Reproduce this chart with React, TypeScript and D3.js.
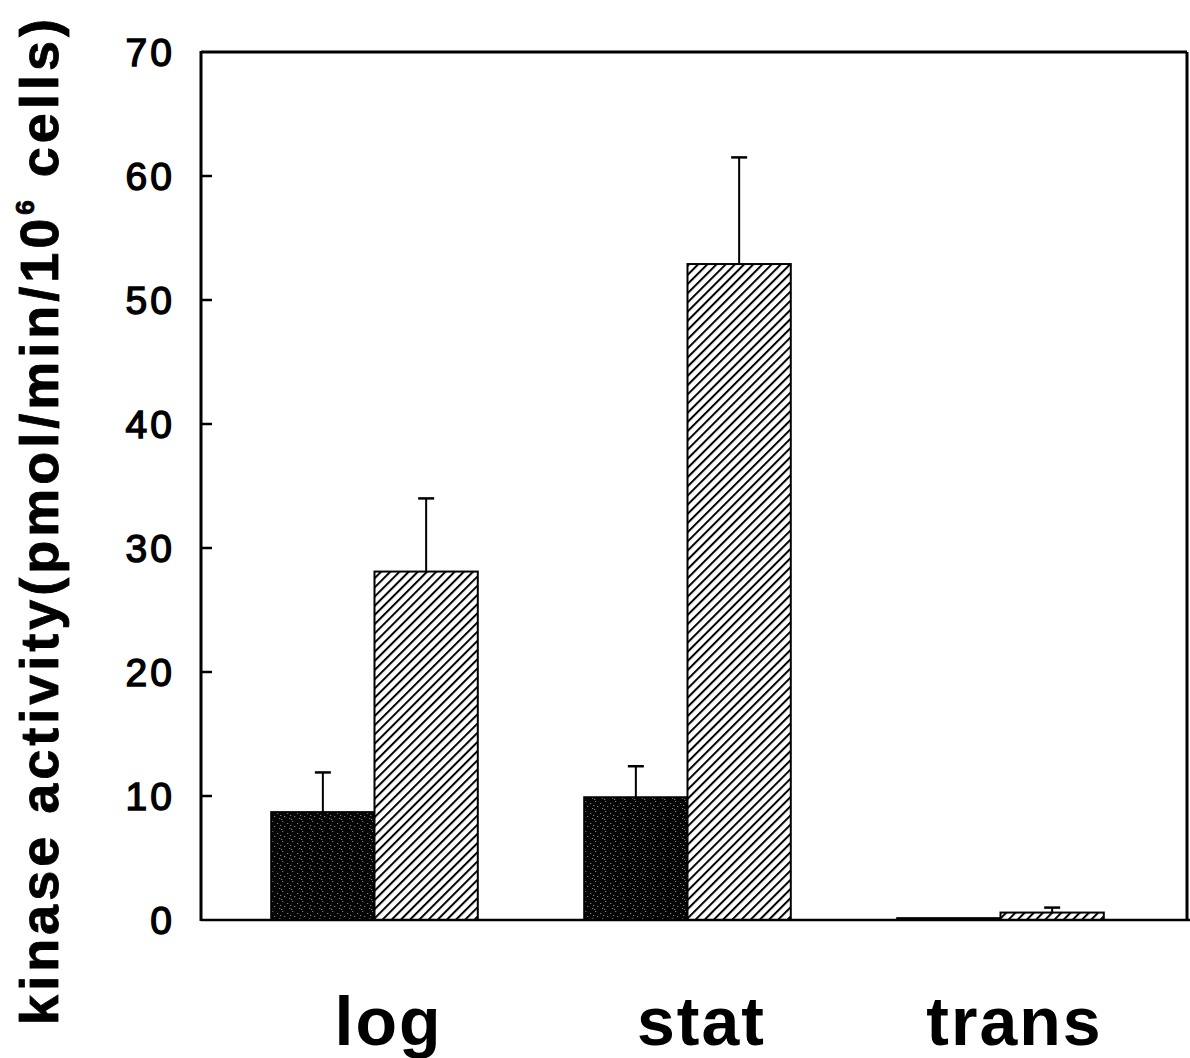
import React, { useEffect, useRef } from "react";
import * as d3 from "d3";

const categories = ["log", "stat", "trans"];
const series = ["dark", "hatched"];
const darkValues = [8.7, 9.9, 0.15];
const darkErrTop = [11.9, 12.4, null];
const hatchedValues = [28.1, 52.9, 0.6];
const hatchedErrTop = [34.0, 61.5, 1.0];
const yTicks = [0, 10, 20, 30, 40, 50, 60, 70];
const yLabelMain = "kinase activity(pmol/min/10";
const yLabelSup = "6";
const yLabelTail = " cells)";

// decorative speckle positions for the dark texture tile (10x10)
const speckles = [
  [1, 1], [6, 3], [3, 6], [8, 8], [0, 9], [9, 5],
];

const W = 1190;
const H = 1058;

export default function App() {
  const ref = useRef<SVGSVGElement | null>(null);

  useEffect(() => {
    const svg = d3.select(ref.current);
    svg.selectAll("*").remove();

    const left = 201, right = 1187, top = 52, bottom = 920;

    const y = d3.scaleLinear().domain([0, 70]).range([bottom, top]);
    const x0 = d3
      .scaleBand<string>()
      .domain(categories)
      .range([218, 1157])
      .paddingInner(0.34)
      .paddingOuter(0.17);
    const x1 = d3.scaleBand<string>().domain(series).range([0, x0.bandwidth()]).padding(0);

    const defs = svg.append("defs");
    const dark = defs
      .append("pattern")
      .attr("id", "darkTex")
      .attr("patternUnits", "userSpaceOnUse")
      .attr("width", 10)
      .attr("height", 10);
    dark.append("rect").attr("width", 10).attr("height", 10).attr("fill", "#050505");
    dark
      .selectAll("rect.sp")
      .data(speckles)
      .enter()
      .append("rect")
      .attr("class", "sp")
      .attr("x", (d) => d[0])
      .attr("y", (d) => d[1])
      .attr("width", 1)
      .attr("height", 1)
      .attr("fill", "#999");

    const hatch = defs
      .append("pattern")
      .attr("id", "hatchTex")
      .attr("patternUnits", "userSpaceOnUse")
      .attr("width", 6.5)
      .attr("height", 6.5)
      .attr("patternTransform", "rotate(45)");
    hatch.append("rect").attr("width", 6.5).attr("height", 6.5).attr("fill", "#fff");
    hatch
      .append("line")
      .attr("x1", 1)
      .attr("x2", 1)
      .attr("y1", 0)
      .attr("y2", 6.5)
      .attr("stroke", "#000")
      .attr("stroke-width", 2);

    const data = categories.map((c, i) => ({
      cat: c,
      bars: [
        { key: "dark", v: darkValues[i], e: darkErrTop[i] },
        { key: "hatched", v: hatchedValues[i], e: hatchedErrTop[i] },
      ],
    }));

    const g = svg.append("g");

    const groups = g
      .selectAll("g.grp")
      .data(data)
      .enter()
      .append("g")
      .attr("class", "grp")
      .attr("transform", (d) => `translate(${x0(d.cat)},0)`);

    // error bars (upper only)
    groups.each(function (d) {
      const gg = d3.select(this);
      d.bars.forEach((b) => {
        if (b.e == null) return;
        const cx = (x1(b.key) as number) + x1.bandwidth() / 2;
        gg.append("line")
          .attr("x1", cx)
          .attr("x2", cx)
          .attr("y1", y(b.v))
          .attr("y2", y(b.e))
          .attr("stroke", "#000")
          .attr("stroke-width", 2);
        gg.append("line")
          .attr("x1", cx - 8)
          .attr("x2", cx + 8)
          .attr("y1", y(b.e))
          .attr("y2", y(b.e))
          .attr("stroke", "#000")
          .attr("stroke-width", 2.5);
      });
    });

    groups
      .selectAll("rect.bar")
      .data((d) => d.bars)
      .enter()
      .append("rect")
      .attr("class", "bar")
      .attr("x", (b) => x1(b.key) as number)
      .attr("y", (b) => y(b.v))
      .attr("width", x1.bandwidth())
      .attr("height", (b) => y(0) - y(b.v))
      .attr("fill", (b) => (b.key === "dark" ? "url(#darkTex)" : "url(#hatchTex)"))
      .attr("stroke", "#000")
      .attr("stroke-width", 2);

    // frame
    const frame = svg.append("g").attr("stroke", "#000").attr("fill", "none");
    frame.append("line").attr("x1", left).attr("x2", left).attr("y1", top - 1).attr("y2", bottom + 1).attr("stroke-width", 3);
    frame.append("line").attr("x1", left).attr("x2", right).attr("y1", top).attr("y2", top).attr("stroke-width", 3);
    frame.append("line").attr("x1", right).attr("x2", right).attr("y1", top).attr("y2", bottom).attr("stroke-width", 3);
    frame.append("line").attr("x1", left).attr("x2", W).attr("y1", bottom).attr("y2", bottom).attr("stroke-width", 2.5);

    // y ticks (inward)
    const ticks = svg.append("g");
    ticks
      .selectAll("line")
      .data(yTicks.filter((t) => t !== 0 && t !== 70))
      .enter()
      .append("line")
      .attr("x1", left)
      .attr("x2", left + 11)
      .attr("y1", (t) => y(t))
      .attr("y2", (t) => y(t))
      .attr("stroke", "#000")
      .attr("stroke-width", 2.5);
    ticks
      .selectAll("text")
      .data(yTicks)
      .enter()
      .append("text")
      .attr("x", 175)
      .attr("y", (t) => y(t))
      .attr("dy", "0.36em")
      .attr("text-anchor", "end")
      .attr("font-family", "'Liberation Sans', Arial, sans-serif")
      .attr("font-size", 39)
      .attr("letter-spacing", 3)
      .attr("fill", "#000")
      .attr("stroke", "#000")
      .attr("stroke-width", 1.4)
      .text((t) => String(t));

    // category labels
    svg
      .append("g")
      .selectAll("text")
      .data(categories)
      .enter()
      .append("text")
      .attr("x", (c) => (x0(c) as number) + x0.bandwidth() / 2 + 14)
      .attr("y", 1045)
      .attr("text-anchor", "middle")
      .attr("font-family", "'Liberation Sans', Arial, sans-serif")
      .attr("font-weight", "bold")
      .attr("font-size", 68)
      .attr("letter-spacing", 2)
      .attr("fill", "#000")
      .text((c) => c);

    // y label
    const yl = svg
      .append("text")
      .attr("transform", "translate(58,520) rotate(-90)")
      .attr("text-anchor", "middle")
      .attr("font-family", "'Liberation Sans', Arial, sans-serif")
      .attr("font-weight", "bold")
      .attr("font-size", 54)
      .attr("letter-spacing", 4)
      .attr("fill", "#000")
      .attr("stroke", "#000")
      .attr("stroke-width", 0.8);
    yl.append("tspan").text(yLabelMain);
    yl.append("tspan").attr("font-size", 26).attr("dy", -24).text(yLabelSup);
    yl.append("tspan").attr("dy", 24).text(yLabelTail);
  }, []);

  return (
    <svg
      ref={ref}
      width={W}
      height={H}
      style={{ position: "absolute", left: 0, top: 0, background: "#fff" }}
    />
  );
}
